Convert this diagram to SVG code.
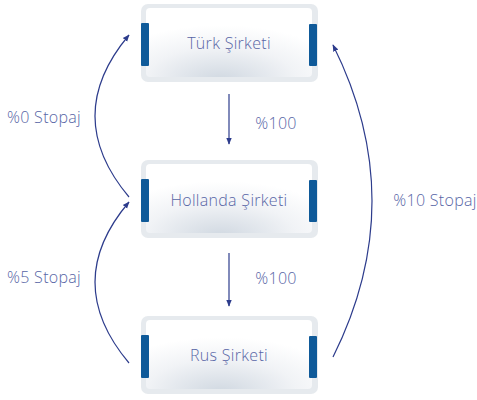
<svg xmlns="http://www.w3.org/2000/svg" width="477" height="400" viewBox="0 0 477 400">
<style>
.outer{fill:#e6eaee;}
.inner{fill:url(#g);}
.bar{fill:#0f5a99;}
.lbl{font-family:"Open Sans",Lato,sans-serif;font-size:16px;fill:#5866a6;text-anchor:middle;dominant-baseline:central;font-weight:300;letter-spacing:0.3px;}
.ed{fill:none;stroke:#2d3c8c;stroke-width:1.2;marker-end:url(#ah);}
</style>
<defs>
<radialGradient id="g" cx="0.45" cy="1" r="0.75" fx="0.45" fy="1.05">
<stop offset="0" stop-color="#d0d8e1"/>
<stop offset="0.6" stop-color="#f1f3f6"/>
<stop offset="1" stop-color="#ffffff"/>
</radialGradient>
<marker id="ah" viewBox="0 0 10 10" refX="9" refY="5" markerWidth="7" markerHeight="7" markerUnits="userSpaceOnUse" orient="auto">
<path d="M0,1 L10,5 L0,9 Z" fill="#2d3c8c"/>
</marker>
</defs>
<g id="edges">
<path class="ed" d="M229,94 L229,144"/>
<path class="ed" d="M229,253 L229,306"/>
<path class="ed" d="M129,197 Q61,116 129,35"/>
<path class="ed" d="M129,363 Q61,282 129,202"/>
<path class="ed" d="M333,357 Q411,201 333,45"/>
<text class="lbl" x="276" y="123">%100</text>
<text class="lbl" x="276" y="278">%100</text>
<text class="lbl" x="44" y="117">%0 Stopaj</text>
<text class="lbl" x="44" y="277">%5 Stopaj</text>
<text class="lbl" x="435" y="200">%10 Stopaj</text>
</g>
<g id="turk">
<rect class="outer" x="141" y="4" width="177" height="78" rx="7"/>
<rect class="inner" x="146" y="8" width="166" height="69" rx="4"/>
<rect class="bar" x="141" y="23" width="8" height="43" rx="1"/>
<rect class="bar" x="309" y="24" width="8" height="42" rx="1"/>
<text class="lbl" x="229" y="43">Türk Şirketi</text>
</g>
<g id="hollanda">
<rect class="outer" x="141" y="160" width="177" height="78" rx="7"/>
<rect class="inner" x="146" y="164" width="166" height="69" rx="4"/>
<rect class="bar" x="141" y="179" width="8" height="43" rx="1"/>
<rect class="bar" x="309" y="180" width="8" height="42" rx="1"/>
<text class="lbl" x="229" y="200">Hollanda Şirketi</text>
</g>
<g id="rus">
<rect class="outer" x="141" y="316" width="177" height="78" rx="7"/>
<rect class="inner" x="146" y="320" width="166" height="69" rx="4"/>
<rect class="bar" x="141" y="335" width="8" height="43" rx="1"/>
<rect class="bar" x="309" y="336" width="8" height="42" rx="1"/>
<text class="lbl" x="229" y="355">Rus Şirketi</text>
</g>
</svg>
